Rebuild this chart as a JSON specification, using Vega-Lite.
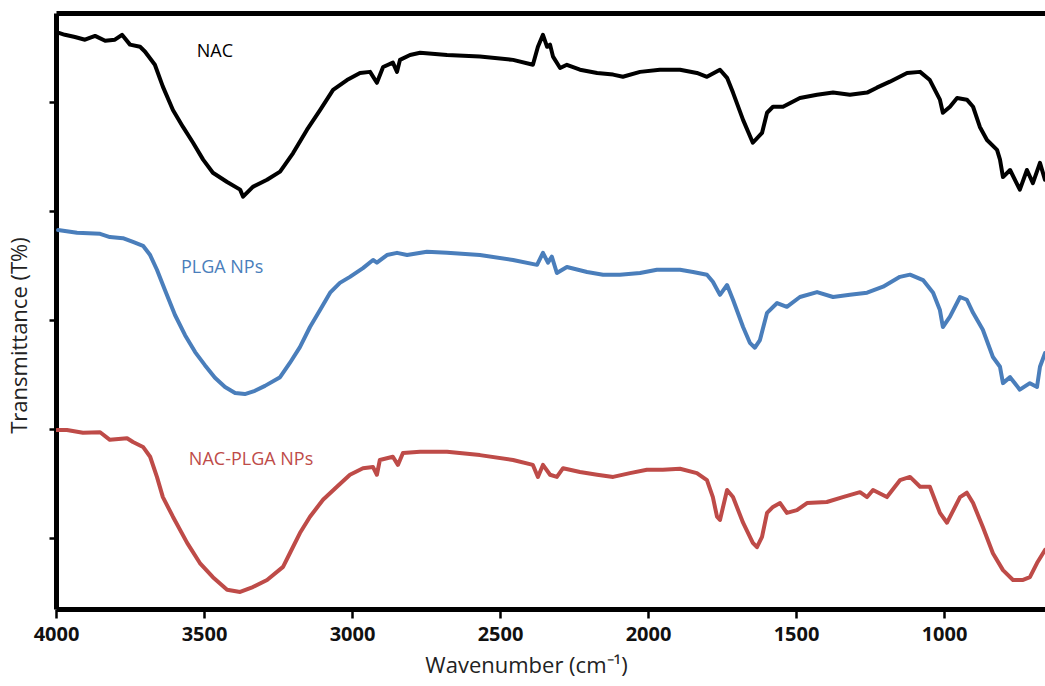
{
  "$schema": "https://vega.github.io/schema/vega-lite/v6.json",
  "autosize": {"type": "none"},
  "width": 989,
  "height": 596,
  "padding": {"left": 56, "top": 13, "right": 0, "bottom": 77},
  "background": "white",
  "config": {
    "view": {"stroke": null},
    "font": "Open Sans"
  },
  "datasets": {
    "labels": [
      {"series": "NAC", "wn": 3463, "T": 109.2, "label": "NAC"},
      {"series": "PLGA NPs", "wn": 3439, "T": 69.5, "label": "PLGA NPs"},
      {"series": "NAC-PLGA NPs", "wn": 3341, "T": 34.3, "label": "NAC-PLGA NPs"}
    ],
    "spectra": [
      {"series":"NAC","wn":3993,"T":112.7},{"series":"NAC","wn":3970,"T":112.3},{"series":"NAC","wn":3936,"T":111.9},{"series":"NAC","wn":3902,"T":111.4},{"series":"NAC","wn":3868,"T":112.1},{"series":"NAC","wn":3834,"T":111.2},{"series":"NAC","wn":3801,"T":111.4},{"series":"NAC","wn":3777,"T":112.3},{"series":"NAC","wn":3750,"T":110.5},{"series":"NAC","wn":3716,"T":110.1},{"series":"NAC","wn":3699,"T":109.2},{"series":"NAC","wn":3666,"T":106.8},{"series":"NAC","wn":3639,"T":102.8},{"series":"NAC","wn":3605,"T":98.5},{"series":"NAC","wn":3571,"T":95.4},{"series":"NAC","wn":3537,"T":92.5},{"series":"NAC","wn":3503,"T":89.4},{"series":"NAC","wn":3470,"T":87.0},{"series":"NAC","wn":3422,"T":85.3},{"series":"NAC","wn":3378,"T":83.9},{"series":"NAC","wn":3368,"T":82.6},{"series":"NAC","wn":3335,"T":84.4},{"series":"NAC","wn":3287,"T":85.7},{"series":"NAC","wn":3243,"T":87.2},{"series":"NAC","wn":3199,"T":90.6},{"series":"NAC","wn":3152,"T":94.9},{"series":"NAC","wn":3108,"T":98.5},{"series":"NAC","wn":3064,"T":102.2},{"series":"NAC","wn":3017,"T":104.0},{"series":"NAC","wn":2973,"T":105.3},{"series":"NAC","wn":2939,"T":105.5},{"series":"NAC","wn":2916,"T":103.5},{"series":"NAC","wn":2895,"T":106.4},{"series":"NAC","wn":2862,"T":107.2},{"series":"NAC","wn":2848,"T":105.5},{"series":"NAC","wn":2838,"T":107.7},{"series":"NAC","wn":2804,"T":108.6},{"series":"NAC","wn":2770,"T":109.0},{"series":"NAC","wn":2679,"T":108.6},{"series":"NAC","wn":2568,"T":108.3},{"series":"NAC","wn":2456,"T":107.7},{"series":"NAC","wn":2389,"T":106.8},{"series":"NAC","wn":2372,"T":110.1},{"series":"NAC","wn":2355,"T":112.3},{"series":"NAC","wn":2341,"T":110.1},{"series":"NAC","wn":2331,"T":110.5},{"series":"NAC","wn":2321,"T":108.3},{"series":"NAC","wn":2297,"T":106.2},{"series":"NAC","wn":2274,"T":106.8},{"series":"NAC","wn":2230,"T":105.9},{"series":"NAC","wn":2172,"T":105.3},{"series":"NAC","wn":2118,"T":105.0},{"series":"NAC","wn":2085,"T":104.6},{"series":"NAC","wn":2027,"T":105.5},{"series":"NAC","wn":1960,"T":105.9},{"series":"NAC","wn":1892,"T":105.9},{"series":"NAC","wn":1835,"T":105.3},{"series":"NAC","wn":1801,"T":104.6},{"series":"NAC","wn":1757,"T":105.9},{"series":"NAC","wn":1733,"T":104.4},{"series":"NAC","wn":1713,"T":101.7},{"series":"NAC","wn":1679,"T":96.7},{"series":"NAC","wn":1646,"T":92.5},{"series":"NAC","wn":1615,"T":94.3},{"series":"NAC","wn":1598,"T":98.0},{"series":"NAC","wn":1578,"T":99.1},{"series":"NAC","wn":1544,"T":99.1},{"series":"NAC","wn":1487,"T":100.7},{"series":"NAC","wn":1429,"T":101.3},{"series":"NAC","wn":1375,"T":101.7},{"series":"NAC","wn":1318,"T":101.3},{"series":"NAC","wn":1260,"T":101.7},{"series":"NAC","wn":1227,"T":102.6},{"series":"NAC","wn":1183,"T":103.7},{"series":"NAC","wn":1125,"T":105.3},{"series":"NAC","wn":1081,"T":105.5},{"series":"NAC","wn":1048,"T":104.0},{"series":"NAC","wn":1014,"T":100.4},{"series":"NAC","wn":1004,"T":98.0},{"series":"NAC","wn":980,"T":99.1},{"series":"NAC","wn":956,"T":100.7},{"series":"NAC","wn":923,"T":100.4},{"series":"NAC","wn":902,"T":99.1},{"series":"NAC","wn":879,"T":95.4},{"series":"NAC","wn":855,"T":93.0},{"series":"NAC","wn":821,"T":91.2},{"series":"NAC","wn":811,"T":89.4},{"series":"NAC","wn":801,"T":86.2},{"series":"NAC","wn":777,"T":87.5},{"series":"NAC","wn":744,"T":83.9},{"series":"NAC","wn":720,"T":87.5},{"series":"NAC","wn":700,"T":85.1},{"series":"NAC","wn":676,"T":88.8},{"series":"NAC","wn":659,"T":85.7},
      {"series":"PLGA NPs","wn":3993,"T":76.5},{"series":"PLGA NPs","wn":3929,"T":76.0},{"series":"PLGA NPs","wn":3851,"T":75.8},{"series":"PLGA NPs","wn":3818,"T":75.2},{"series":"PLGA NPs","wn":3774,"T":75.0},{"series":"PLGA NPs","wn":3740,"T":74.3},{"series":"PLGA NPs","wn":3706,"T":73.6},{"series":"PLGA NPs","wn":3682,"T":71.9},{"series":"PLGA NPs","wn":3659,"T":69.2},{"series":"PLGA NPs","wn":3632,"T":65.5},{"series":"PLGA NPs","wn":3598,"T":60.9},{"series":"PLGA NPs","wn":3564,"T":57.2},{"series":"PLGA NPs","wn":3530,"T":54.1},{"series":"PLGA NPs","wn":3497,"T":51.7},{"series":"PLGA NPs","wn":3463,"T":49.4},{"series":"PLGA NPs","wn":3429,"T":47.7},{"series":"PLGA NPs","wn":3395,"T":46.6},{"series":"PLGA NPs","wn":3362,"T":46.4},{"series":"PLGA NPs","wn":3328,"T":47.0},{"series":"PLGA NPs","wn":3294,"T":47.9},{"series":"PLGA NPs","wn":3243,"T":49.5},{"series":"PLGA NPs","wn":3210,"T":52.1},{"series":"PLGA NPs","wn":3176,"T":55.0},{"series":"PLGA NPs","wn":3142,"T":58.7},{"series":"PLGA NPs","wn":3108,"T":61.8},{"series":"PLGA NPs","wn":3074,"T":65.0},{"series":"PLGA NPs","wn":3041,"T":66.8},{"series":"PLGA NPs","wn":3007,"T":67.9},{"series":"PLGA NPs","wn":2963,"T":69.5},{"series":"PLGA NPs","wn":2929,"T":71.0},{"series":"PLGA NPs","wn":2916,"T":70.5},{"series":"PLGA NPs","wn":2882,"T":71.9},{"series":"PLGA NPs","wn":2848,"T":72.3},{"series":"PLGA NPs","wn":2814,"T":71.9},{"series":"PLGA NPs","wn":2747,"T":72.5},{"series":"PLGA NPs","wn":2679,"T":72.3},{"series":"PLGA NPs","wn":2568,"T":71.9},{"series":"PLGA NPs","wn":2456,"T":71.0},{"series":"PLGA NPs","wn":2375,"T":70.1},{"series":"PLGA NPs","wn":2355,"T":72.3},{"series":"PLGA NPs","wn":2338,"T":70.5},{"series":"PLGA NPs","wn":2325,"T":71.6},{"series":"PLGA NPs","wn":2308,"T":68.6},{"series":"PLGA NPs","wn":2274,"T":69.7},{"series":"PLGA NPs","wn":2206,"T":68.8},{"series":"PLGA NPs","wn":2152,"T":68.3},{"series":"PLGA NPs","wn":2095,"T":68.3},{"series":"PLGA NPs","wn":2027,"T":68.6},{"series":"PLGA NPs","wn":1970,"T":69.2},{"series":"PLGA NPs","wn":1892,"T":69.2},{"series":"PLGA NPs","wn":1848,"T":68.8},{"series":"PLGA NPs","wn":1801,"T":68.3},{"series":"PLGA NPs","wn":1781,"T":67.0},{"series":"PLGA NPs","wn":1757,"T":64.6},{"series":"PLGA NPs","wn":1733,"T":66.4},{"series":"PLGA NPs","wn":1713,"T":63.7},{"series":"PLGA NPs","wn":1679,"T":58.7},{"series":"PLGA NPs","wn":1656,"T":55.8},{"series":"PLGA NPs","wn":1639,"T":54.9},{"series":"PLGA NPs","wn":1622,"T":56.3},{"series":"PLGA NPs","wn":1598,"T":61.3},{"series":"PLGA NPs","wn":1564,"T":63.1},{"series":"PLGA NPs","wn":1531,"T":62.4},{"series":"PLGA NPs","wn":1487,"T":64.2},{"series":"PLGA NPs","wn":1429,"T":65.1},{"series":"PLGA NPs","wn":1375,"T":64.2},{"series":"PLGA NPs","wn":1318,"T":64.6},{"series":"PLGA NPs","wn":1260,"T":65.0},{"series":"PLGA NPs","wn":1206,"T":66.1},{"series":"PLGA NPs","wn":1149,"T":67.9},{"series":"PLGA NPs","wn":1115,"T":68.3},{"series":"PLGA NPs","wn":1071,"T":67.3},{"series":"PLGA NPs","wn":1037,"T":65.0},{"series":"PLGA NPs","wn":1014,"T":61.8},{"series":"PLGA NPs","wn":1004,"T":58.7},{"series":"PLGA NPs","wn":980,"T":60.6},{"series":"PLGA NPs","wn":946,"T":64.2},{"series":"PLGA NPs","wn":923,"T":63.7},{"series":"PLGA NPs","wn":902,"T":61.3},{"series":"PLGA NPs","wn":869,"T":58.2},{"series":"PLGA NPs","wn":835,"T":53.2},{"series":"PLGA NPs","wn":811,"T":51.4},{"series":"PLGA NPs","wn":801,"T":48.4},{"series":"PLGA NPs","wn":777,"T":49.5},{"series":"PLGA NPs","wn":744,"T":47.2},{"series":"PLGA NPs","wn":710,"T":48.4},{"series":"PLGA NPs","wn":686,"T":47.7},{"series":"PLGA NPs","wn":676,"T":51.4},{"series":"PLGA NPs","wn":659,"T":53.9},
      {"series":"NAC-PLGA NPs","wn":3997,"T":39.8},{"series":"NAC-PLGA NPs","wn":3963,"T":39.8},{"series":"NAC-PLGA NPs","wn":3909,"T":39.3},{"series":"NAC-PLGA NPs","wn":3851,"T":39.4},{"series":"NAC-PLGA NPs","wn":3818,"T":38.0},{"series":"NAC-PLGA NPs","wn":3760,"T":38.3},{"series":"NAC-PLGA NPs","wn":3740,"T":37.6},{"series":"NAC-PLGA NPs","wn":3706,"T":36.7},{"series":"NAC-PLGA NPs","wn":3682,"T":34.9},{"series":"NAC-PLGA NPs","wn":3659,"T":31.2},{"series":"NAC-PLGA NPs","wn":3639,"T":27.5},{"series":"NAC-PLGA NPs","wn":3605,"T":23.9},{"series":"NAC-PLGA NPs","wn":3557,"T":19.1},{"series":"NAC-PLGA NPs","wn":3514,"T":15.4},{"series":"NAC-PLGA NPs","wn":3470,"T":12.8},{"series":"NAC-PLGA NPs","wn":3422,"T":10.5},{"series":"NAC-PLGA NPs","wn":3378,"T":10.1},{"series":"NAC-PLGA NPs","wn":3335,"T":11.0},{"series":"NAC-PLGA NPs","wn":3287,"T":12.3},{"series":"NAC-PLGA NPs","wn":3233,"T":14.7},{"series":"NAC-PLGA NPs","wn":3210,"T":17.2},{"series":"NAC-PLGA NPs","wn":3176,"T":20.9},{"series":"NAC-PLGA NPs","wn":3142,"T":23.9},{"series":"NAC-PLGA NPs","wn":3098,"T":27.0},{"series":"NAC-PLGA NPs","wn":3051,"T":29.4},{"series":"NAC-PLGA NPs","wn":3007,"T":31.6},{"series":"NAC-PLGA NPs","wn":2963,"T":32.8},{"series":"NAC-PLGA NPs","wn":2929,"T":33.0},{"series":"NAC-PLGA NPs","wn":2916,"T":31.6},{"series":"NAC-PLGA NPs","wn":2906,"T":34.3},{"series":"NAC-PLGA NPs","wn":2862,"T":34.9},{"series":"NAC-PLGA NPs","wn":2845,"T":33.4},{"series":"NAC-PLGA NPs","wn":2828,"T":35.6},{"series":"NAC-PLGA NPs","wn":2770,"T":35.8},{"series":"NAC-PLGA NPs","wn":2679,"T":35.8},{"series":"NAC-PLGA NPs","wn":2568,"T":35.2},{"series":"NAC-PLGA NPs","wn":2456,"T":34.3},{"series":"NAC-PLGA NPs","wn":2389,"T":33.4},{"series":"NAC-PLGA NPs","wn":2372,"T":31.2},{"series":"NAC-PLGA NPs","wn":2355,"T":33.4},{"series":"NAC-PLGA NPs","wn":2331,"T":31.6},{"series":"NAC-PLGA NPs","wn":2308,"T":31.2},{"series":"NAC-PLGA NPs","wn":2287,"T":32.8},{"series":"NAC-PLGA NPs","wn":2230,"T":32.1},{"series":"NAC-PLGA NPs","wn":2172,"T":31.6},{"series":"NAC-PLGA NPs","wn":2118,"T":31.2},{"series":"NAC-PLGA NPs","wn":2061,"T":31.9},{"series":"NAC-PLGA NPs","wn":2004,"T":32.5},{"series":"NAC-PLGA NPs","wn":1950,"T":32.5},{"series":"NAC-PLGA NPs","wn":1892,"T":32.7},{"series":"NAC-PLGA NPs","wn":1835,"T":31.9},{"series":"NAC-PLGA NPs","wn":1801,"T":30.6},{"series":"NAC-PLGA NPs","wn":1781,"T":27.5},{"series":"NAC-PLGA NPs","wn":1767,"T":23.9},{"series":"NAC-PLGA NPs","wn":1757,"T":23.3},{"series":"NAC-PLGA NPs","wn":1733,"T":28.8},{"series":"NAC-PLGA NPs","wn":1713,"T":27.5},{"series":"NAC-PLGA NPs","wn":1679,"T":22.8},{"series":"NAC-PLGA NPs","wn":1646,"T":19.1},{"series":"NAC-PLGA NPs","wn":1632,"T":18.3},{"series":"NAC-PLGA NPs","wn":1615,"T":20.2},{"series":"NAC-PLGA NPs","wn":1598,"T":24.6},{"series":"NAC-PLGA NPs","wn":1578,"T":25.7},{"series":"NAC-PLGA NPs","wn":1554,"T":26.4},{"series":"NAC-PLGA NPs","wn":1531,"T":24.6},{"series":"NAC-PLGA NPs","wn":1497,"T":25.1},{"series":"NAC-PLGA NPs","wn":1463,"T":26.4},{"series":"NAC-PLGA NPs","wn":1396,"T":26.6},{"series":"NAC-PLGA NPs","wn":1342,"T":27.5},{"series":"NAC-PLGA NPs","wn":1284,"T":28.4},{"series":"NAC-PLGA NPs","wn":1260,"T":27.5},{"series":"NAC-PLGA NPs","wn":1240,"T":28.8},{"series":"NAC-PLGA NPs","wn":1193,"T":27.5},{"series":"NAC-PLGA NPs","wn":1149,"T":30.6},{"series":"NAC-PLGA NPs","wn":1115,"T":31.2},{"series":"NAC-PLGA NPs","wn":1081,"T":29.4},{"series":"NAC-PLGA NPs","wn":1048,"T":29.4},{"series":"NAC-PLGA NPs","wn":1014,"T":24.6},{"series":"NAC-PLGA NPs","wn":990,"T":22.8},{"series":"NAC-PLGA NPs","wn":946,"T":27.5},{"series":"NAC-PLGA NPs","wn":923,"T":28.3},{"series":"NAC-PLGA NPs","wn":902,"T":26.4},{"series":"NAC-PLGA NPs","wn":869,"T":22.0},{"series":"NAC-PLGA NPs","wn":835,"T":17.2},{"series":"NAC-PLGA NPs","wn":801,"T":14.1},{"series":"NAC-PLGA NPs","wn":767,"T":12.3},{"series":"NAC-PLGA NPs","wn":733,"T":12.3},{"series":"NAC-PLGA NPs","wn":710,"T":12.8},{"series":"NAC-PLGA NPs","wn":686,"T":15.4},{"series":"NAC-PLGA NPs","wn":659,"T":17.8}
    ]
  },
  "layer": [
    {
      "data": {"name": "spectra"},
      "mark": {"type": "line", "strokeWidth": 4, "clip": true, "strokeJoin": "round", "strokeCap": "round"},
      "encoding": {
        "x": {
          "field": "wn", "type": "quantitative",
          "scale": {"domain": [4000, 659], "nice": false, "zero": false},
          "axis": {
            "orient": "bottom",
            "values": [4000, 3500, 3000, 2500, 2000, 1500, 1000],
            "format": "d",
            "title": "Wavenumber (cm⁻¹)",
            "titleFont": "Open Sans", "titleFontSize": 22, "titleFontWeight": "normal", "titleColor": "#222",
            "titlePadding": 11,
            "titleX": 470,
            "labelFont": "Open Sans", "labelFontSize": 20, "labelFontWeight": "bold", "labelColor": "#111",
            "labelPadding": 6,
            "labelFlush": false,
            "grid": false,
            "domainColor": "black", "domainWidth": 5,
            "tickColor": "black", "tickWidth": 2.5, "tickSize": 9
          }
        },
        "y": {
          "field": "T", "type": "quantitative",
          "scale": {"domain": [6.97, 116.3], "nice": false, "zero": false},
          "axis": {
            "values": [20, 40, 60, 80, 100],
            "labels": false,
            "title": "Transmittance (T%)",
            "titleFont": "Open Sans", "titleFontSize": 22, "titleFontWeight": "normal", "titleColor": "#222",
            "titlePadding": 16,
            "titleY": 322,
            "grid": false,
            "domainColor": "black", "domainWidth": 5,
            "tickColor": "black", "tickWidth": 2.5, "tickSize": 7
          }
        },
        "color": {
          "field": "series", "type": "nominal",
          "scale": {"domain": ["NAC", "PLGA NPs", "NAC-PLGA NPs"], "range": ["#000000", "#4a7ebb", "#be4b48"]},
          "legend": null
        }
      }
    },
    {
      "data": {"name": "labels"},
      "mark": {"type": "text", "font": "Open Sans", "fontSize": 18, "align": "center", "baseline": "middle"},
      "encoding": {
        "x": {
          "field": "wn", "type": "quantitative",
          "axis": {"orient": "top", "labels": false, "ticks": false, "title": null, "grid": false, "domainColor": "black", "domainWidth": 5}
        },
        "y": {"field": "T", "type": "quantitative"},
        "text": {"field": "label"},
        "color": {"field": "series", "type": "nominal", "legend": null}
      }
    }
  ],
  "resolve": {"axis": {"x": "independent"}}
}
